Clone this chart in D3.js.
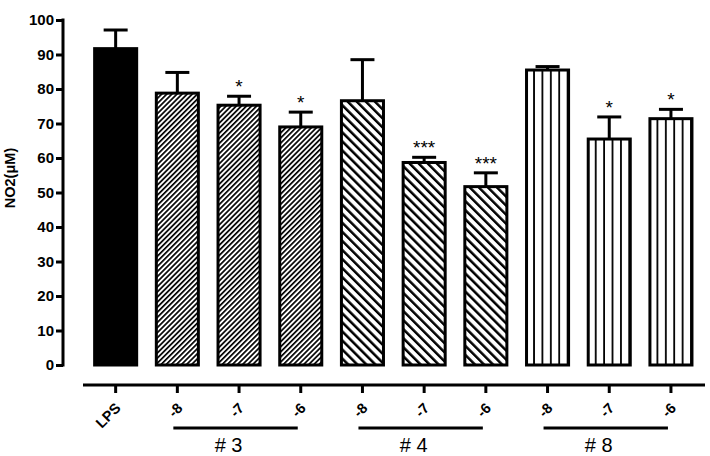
<!DOCTYPE html>
<html>
<head>
<meta charset="utf-8">
<script src="https://cdn.jsdelivr.net/npm/d3@7"></script>
<style>
  body { margin: 0; background: #fff; }
  svg { display: block; font-family: "Liberation Sans", Arial, sans-serif; }
</style>
</head>
<body>
<div id="chart"></div>
<script>
var categories = ["LPS", "3:-8", "3:-7", "3:-6", "4:-8", "4:-7", "4:-6", "8:-8", "8:-7", "8:-6"];
var tickLabels = ["LPS", "-8", "-7", "-6", "-8", "-7", "-6", "-8", "-7", "-6"];
var means = [91.7, 78.8, 75.3, 69.0, 76.6, 58.7, 51.7, 85.5, 65.5, 71.4];
var errors = [5.4, 6.0, 2.6, 4.3, 11.9, 1.5, 4.0, 1.0, 6.4, 2.7];
var stars = ["", "", "*", "*", "", "***", "***", "", "*", "*"];
var patterns = ["solid", "p3", "p3", "p3", "p4", "p4", "p4", "p8", "p8", "p8"];
var groups = [
  {name: "# 3", first: "3:-8", last: "3:-6"},
  {name: "# 4", first: "4:-8", last: "4:-6"},
  {name: "# 8", first: "8:-8", last: "8:-6"}
];
var yTicks = [0, 10, 20, 30, 40, 50, 60, 70, 80, 90, 100];

const WIDTH = 710;
const HEIGHT = 456;

var svg = d3.select('#chart').append('svg')
  .attr('width', WIDTH)
  .attr('height', HEIGHT);

var defs = svg.append('defs');

// #3 dense up-right hatch
var p3 = defs.append('pattern')
  .attr('id', 'p3')
  .attr('patternUnits', 'userSpaceOnUse')
  .attr('width', 3.6).attr('height', 3.6)
  .attr('patternTransform', 'rotate(45)');
p3.append('rect').attr('width', 3.6).attr('height', 3.6).attr('fill', '#fff');
p3.append('line').attr('x1', 0).attr('y1', 0).attr('x2', 0).attr('y2', 3.6)
  .attr('stroke', '#000').attr('stroke-width', 3.4);

// #4 wide down-right hatch
var p4 = defs.append('pattern')
  .attr('id', 'p4')
  .attr('patternUnits', 'userSpaceOnUse')
  .attr('width', 6.4).attr('height', 6.4)
  .attr('patternTransform', 'rotate(-45)');
p4.append('rect').attr('width', 6.4).attr('height', 6.4).attr('fill', '#fff');
p4.append('line').attr('x1', 0).attr('y1', 0).attr('x2', 0).attr('y2', 6.4)
  .attr('stroke', '#000').attr('stroke-width', 5);

var xScale = d3.scaleBand()
  .domain(categories)
  .range([84.8, 701.8])
  .paddingInner(0.27)
  .paddingOuter(0.135);

var yScale = d3.scaleLinear()
  .domain([0, 100])
  .range([365, 20]);

// #8 vertical stripes, aligned per bar
categories.forEach(function(c, i){
  if (patterns[i] !== 'p8') return;
  var p = defs.append('pattern')
    .attr('id', 'p8_' + i)
    .attr('patternUnits', 'userSpaceOnUse')
    .attr('x', xScale(c) + 1.5)
    .attr('width', 8.4).attr('height', 10);
  p.append('rect').attr('width', 8.4).attr('height', 10).attr('fill', '#fff');
  p.append('rect').attr('x', 6.6).attr('width', 3.2).attr('height', 10).attr('fill', '#000');
});

var fillFor = function(i){
  if (patterns[i] === 'solid') return '#000';
  if (patterns[i] === 'p8') return 'url(#p8_' + i + ')';
  return 'url(#' + patterns[i] + ')';
};

var bw = xScale.bandwidth();

// bars
svg.append('g').selectAll('rect')
  .data(categories)
  .enter().append('rect')
  .attr('x', function(d){ return xScale(d) + 1.5; })
  .attr('y', function(d, i){ return yScale(means[i]); })
  .attr('width', bw - 3)
  .attr('height', function(d, i){ return yScale(0) - yScale(means[i]); })
  .attr('fill', function(d, i){ return fillFor(i); })
  .attr('stroke', '#000')
  .attr('stroke-width', 3);

// error bars (upper only)
var eb = svg.append('g').attr('stroke', '#000').attr('stroke-width', 3).attr('fill', 'none');
categories.forEach(function(c, i){
  var cx = xScale(c) + bw / 2;
  var top = yScale(means[i] + errors[i]);
  eb.append('line').attr('x1', cx).attr('x2', cx)
    .attr('y1', yScale(means[i])).attr('y2', top);
  eb.append('line').attr('x1', cx - 12).attr('x2', cx + 12)
    .attr('y1', top).attr('y2', top);
});

// significance stars
svg.append('g').selectAll('text')
  .data(categories)
  .enter().append('text')
  .attr('x', function(d){ return xScale(d) + bw / 2; })
  .attr('y', function(d, i){ return yScale(means[i] + errors[i]) - 3; })
  .attr('text-anchor', 'middle')
  .attr('font-size', 19)
  .text(function(d, i){ return stars[i]; });

// y axis
var yAxis = d3.axisLeft(yScale).tickValues(yTicks).tickSize(7).tickPadding(2);
var gy = svg.append('g')
  .attr('transform', 'translate(63,0)')
  .call(yAxis);
gy.select('.domain').attr('stroke-width', 3).attr('d', 'M0,18.5V366.5');
gy.selectAll('.tick line').attr('stroke-width', 3);
gy.selectAll('.tick text')
  .attr('font-size', 15)
  .attr('font-weight', 'bold')
  .attr('font-family', '"Liberation Sans", Arial, sans-serif')
  .attr('fill', '#000');

// x axis
var xAxis = d3.axisBottom(xScale).tickSize(8).tickFormat(function(d, i){ return tickLabels[i]; });
var gx = svg.append('g')
  .attr('transform', 'translate(0,385)')
  .call(xAxis);
gx.select('.domain').attr('stroke-width', 3).attr('d', 'M83,0H705');
gx.selectAll('.tick line').attr('stroke-width', 3);
gx.selectAll('.tick text')
  .attr('font-size', 14.5)
  .attr('font-weight', 'bold')
  .attr('font-family', '"Liberation Sans", Arial, sans-serif')
  .attr('fill', '#000')
  .attr('text-anchor', 'end')
  .attr('dy', null)
  .attr('y', 0)
  .attr('transform', 'translate(6,24) rotate(-45)');

// group lines and labels
var gg = svg.append('g');
groups.forEach(function(g){
  var x1 = xScale(g.first) + bw / 2 - 4;
  var x2 = xScale(g.last) + bw / 2 - 3;
  gg.append('line').attr('x1', x1).attr('x2', x2)
    .attr('y1', 428).attr('y2', 428)
    .attr('stroke', '#000').attr('stroke-width', 3);
  gg.append('text')
    .attr('x', (x1 + x2) / 2 - 7)
    .attr('y', 452)
    .attr('text-anchor', 'middle')
    .attr('font-size', 20)
    .text(g.name);
});

// y title
svg.append('text')
  .attr('transform', 'translate(15,178) rotate(-90)')
  .attr('text-anchor', 'middle')
  .attr('font-size', 14.5)
  .attr('font-weight', 'bold')
  .text('NO2(μM)');
</script>
</body>
</html>
